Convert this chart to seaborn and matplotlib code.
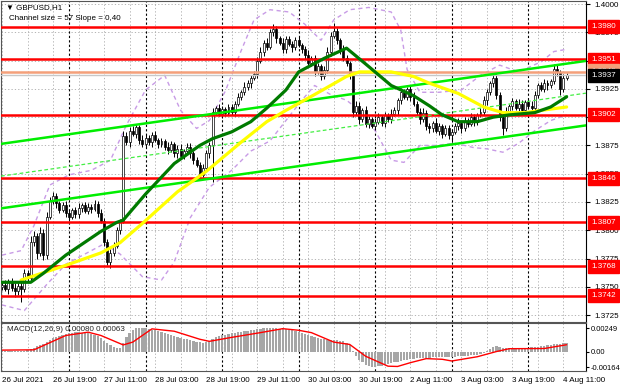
import numpy as np
import pandas as pd
import matplotlib
matplotlib.use("Agg")
import matplotlib.pyplot as plt
import seaborn as sns
from matplotlib.transforms import blended_transform_factory

sns.set_style("white")
plt.rcParams['font.family'] = ['Liberation Sans', 'DejaVu Sans']

# ---------------- data ----------------
title_text = "\u25bc GBPUSD,H1"
channel_text = "Channel size = 57 Slope = 0,40"
macd_text = "MACD(12,26,9) 0.00080 0.00063"

first_open = 1.3750
closes = [
    1.3752, 1.3748, 1.3755, 1.3749, 1.3746, 1.3751, 1.3748,
    1.3762, 1.3758, 1.3790,
    1.3795, 1.3780, 1.3798, 1.3778,
    1.3812, 1.3826, 1.3830,
    1.3824, 1.3818, 1.3822, 1.3815, 1.3812, 1.3818, 1.3814, 1.3820, 1.3822, 1.3817, 1.3821, 1.3819, 1.3823, 1.3815,
    1.3808, 1.3790, 1.3772, 1.3780,
    1.3786, 1.3800, 1.3808, 1.3883,
    1.3878, 1.3888, 1.3885, 1.3891, 1.3880, 1.3876,
    1.3882, 1.3878, 1.3884, 1.3880, 1.3876, 1.3879, 1.3874, 1.3871, 1.3876, 1.3868, 1.3872, 1.3866, 1.3870, 1.3874, 1.3868, 1.3862,
    1.3858, 1.3849, 1.3855, 1.3868, 1.3875,
    1.3905,
    1.3908, 1.3903, 1.3907, 1.3904, 1.3909, 1.3905,
    1.3912, 1.3918, 1.3922, 1.3927, 1.3930, 1.3935, 1.3938,
    1.3950, 1.3958, 1.3966, 1.3962, 1.3975, 1.3978, 1.3970,
    1.3966, 1.3960, 1.3969, 1.3965, 1.3962, 1.3968, 1.3964, 1.3960,
    1.3955, 1.3948, 1.3952, 1.3940, 1.3945, 1.3936, 1.3942,
    1.3958, 1.3972, 1.3976,
    1.3968, 1.3960, 1.3952, 1.3948, 1.3938,
    1.3905,
    1.3910, 1.3898, 1.3906, 1.3894, 1.3898, 1.3892,
    1.3896, 1.3900, 1.3895, 1.3902, 1.3898, 1.3903, 1.3906,
    1.3915, 1.3922, 1.3918, 1.3925,
    1.3918, 1.3912, 1.3905, 1.3898, 1.3904, 1.3892, 1.3890,
    1.3895, 1.3888, 1.3892, 1.3885, 1.3890, 1.3884, 1.3887,
    1.3892, 1.3895, 1.3890, 1.3897, 1.3894, 1.3900, 1.3896, 1.3902, 1.3905,
    1.3915, 1.3922, 1.3930, 1.3935,
    1.3920, 1.3900, 1.3890,
    1.3905, 1.3910, 1.3914, 1.3908, 1.3912, 1.3906, 1.3913, 1.3910, 1.3908,
    1.3920, 1.3928, 1.3925, 1.3930, 1.3928,
    1.3932, 1.3943, 1.3940, 1.3925, 1.3935, 1.3937,
]
up_wick_pips = [
    3, 4, 2, 3, 4, 2, 3, 4, 3, 5,
    4, 3, 5, 3, 4, 3, 4, 3, 2, 3,
    4, 3, 2, 3, 4, 2, 3, 3, 2, 4,
    3, 4, 3, 2, 3, 4, 3, 2, 5, 4,
    3, 4, 3, 2, 4, 3, 2, 3, 4, 2,
    3, 2, 4, 3, 2, 3, 4, 2, 3, 3,
    2, 3, 2, 4, 3, 3, 3, 2, 4, 3,
    2, 3, 3, 2, 3, 2, 4, 3, 2, 3,
    3, 4, 2, 4, 3, 4, 3, 2, 4, 3,
    3, 2, 3, 4, 2, 3, 4, 2, 3, 3,
    2, 3, 4, 3, 7, 3, 2, 4, 3, 2,
    2, 4, 3, 2, 4, 3, 2, 3, 4, 2,
    3, 2, 4, 3, 2, 4, 3, 2, 3, 4,
    2, 3, 4, 2, 3, 2, 4, 3, 2, 3,
    3, 2, 3, 4, 2, 3, 2, 4, 3, 2,
    3, 4, 3, 2, 5, 3, 2, 3, 4, 2,
    3, 2, 4, 3, 2, 3, 4, 3, 2, 3,
    4, 3, 2, 4, 3, 2, 3, 2,
]
down_wick_pips = [
    3, 2, 4, 3, 5, 3, 11, 3, 4, 3,
    4, 5, 3, 4, 3, 2, 3, 4, 3, 2,
    3, 4, 2, 3, 3, 4, 2, 3, 4, 2,
    3, 2, 4, 3, 5, 3, 2, 3, 2, 3,
    4, 2, 3, 4, 2, 3, 3, 4, 2, 3,
    2, 3, 4, 2, 3, 4, 2, 3, 2, 4,
    3, 2, 3, 2, 3, 4, 32, 3, 2, 4,
    3, 2, 3, 4, 2, 3, 2, 3, 4, 2,
    3, 2, 4, 3, 2, 3, 4, 2, 3, 3,
    2, 4, 3, 2, 3, 4, 2, 3, 4, 2,
    3, 2, 3, 4, 2, 3, 4, 2, 3, 4,
    5, 3, 4, 2, 3, 4, 2, 3, 2, 3,
    4, 2, 3, 2, 4, 3, 2, 3, 4, 2,
    3, 4, 2, 3, 4, 3, 2, 4, 3, 2,
    3, 6, 2, 3, 4, 2, 3, 2, 4, 3,
    2, 3, 4, 2, 3, 4, 3, 6, 2, 3,
    4, 2, 3, 4, 2, 3, 2, 4, 3, 2,
    3, 4, 2, 3, 4, 5, 3, 2,
]

# moving averages (bar index, price)
ma_green_bars = [0, 9, 13, 20, 31, 36, 38, 45, 54, 62, 66, 72, 78, 83, 89, 93, 101, 108, 114, 122, 129, 134, 138, 143, 149, 154, 159, 167, 172, 177]
ma_green_vals = [1.3754, 1.3754, 1.3762, 1.3778, 1.3799, 1.3807, 1.3809, 1.3832, 1.3859, 1.3875, 1.3881, 1.3887, 1.3896, 1.3908, 1.3924, 1.3940, 1.3952, 1.3961, 1.3947, 1.3928, 1.3919, 1.3910, 1.3902, 1.3896, 1.3896, 1.3900, 1.3902, 1.3904, 1.3909, 1.3918]
ma_yellow_bars = [6, 20, 31, 37, 44, 55, 64, 75, 83, 89, 98, 108, 112, 122, 129, 134, 143, 151, 157, 164, 169, 177]
ma_yellow_vals = [1.3756, 1.3769, 1.3780, 1.3789, 1.3806, 1.3834, 1.3852, 1.3878, 1.3896, 1.3906, 1.3920, 1.3936, 1.3940, 1.3940, 1.3936, 1.3930, 1.3921, 1.3909, 1.3904, 1.3904, 1.3906, 1.3909]

# envelope bands (bar index, price)
band_up_bars = [0, 6, 10, 15, 21, 28, 34, 39, 45, 51, 56, 61, 65, 70, 75, 79, 84, 90, 95, 100, 104, 109, 115, 122, 125, 127, 131, 137, 144, 150, 156, 162, 169, 173, 177]
band_up_vals = [1.3778, 1.3782, 1.3804, 1.3840, 1.3849, 1.3853, 1.3862, 1.3893, 1.3924, 1.3937, 1.3906, 1.3890, 1.3897, 1.3923, 1.3959, 1.3986, 1.3995, 1.3993, 1.3982, 1.3968, 1.3986, 1.3995, 1.3997, 1.3993, 1.3977, 1.3942, 1.3922, 1.3922, 1.3924, 1.3937, 1.3946, 1.3940, 1.3949, 1.3958, 1.3960]
band_lo_bars = [0, 7, 14, 20, 26, 32, 37, 44, 50, 54, 59, 65, 72, 78, 84, 89, 94, 98, 103, 108, 112, 117, 122, 126, 131, 136, 142, 148, 152, 157, 162, 167, 172, 177]
band_lo_vals = [1.3734, 1.3729, 1.3752, 1.3770, 1.3779, 1.3788, 1.3779, 1.3759, 1.3756, 1.3772, 1.3811, 1.3838, 1.3853, 1.3870, 1.3879, 1.3897, 1.3915, 1.3928, 1.3920, 1.3915, 1.3906, 1.3888, 1.3862, 1.3860, 1.3875, 1.3875, 1.3877, 1.3873, 1.3872, 1.3869, 1.3877, 1.3888, 1.3897, 1.3902]

# regression channel
channel_top_at_bar0 = 1.38765
channel_size_pips = 57
channel_slope_pips = 0.40

levels = [1.3980, 1.3951, 1.3902, 1.3846, 1.3807, 1.3768, 1.3742]
level_labels = ["1.3980", "1.3951", "1.3902", "1.3846", "1.3807", "1.3768", "1.3742"]
ask_price, ask_label = 1.3940, "1.3940"
bid_price, bid_label = 1.3937, "1.3937"
price_ticks = [1.3725, 1.3750, 1.3775, 1.3800, 1.3825, 1.3850, 1.3875, 1.3900, 1.3925, 1.3950, 1.3975, 1.4000]
price_tick_labels = ["1.3725", "1.3750", "1.3775", "1.3800", "1.3825", "1.3850", "1.3875", "", "1.3925", "", "1.3975", "1.4000"]

# MACD histogram (1e-5 units) and signal line
macd_hist = [
    2, 3, 4, 3, 2, 3, 5, 8, 15, 25,
    40, 55, 65, 80, 100, 120, 140, 155, 165, 175,
    185, 195, 200, 205, 205, 200, 200, 195, 190, 180,
    160, 140, 115, 90, 65, 45, 35, 40, 90, 150,
    200, 230, 245, 249, 248, 245, 240, 232, 225, 215,
    205, 195, 185, 175, 165, 155, 145, 135, 128, 120,
    112, 105, 98, 95, 100, 115, 135, 150, 162, 172,
    180, 186, 192, 198, 204, 210, 215, 220, 226, 232,
    237, 242, 245, 248, 249, 248, 246, 243, 240, 236,
    232, 228, 222, 212, 200, 188, 175, 163, 152, 142,
    134, 128, 124, 122, 122, 120, 115, 108, 95, 70,
    10, -45, -85, -115, -140, -155, -164, -162, -156, -148,
    -140, -132, -124, -116, -108, -100, -93, -87, -82, -77,
    -73, -70, -68, -66, -64, -62, -61, -60, -59, -58,
    -57, -56, -54, -52, -50, -47, -44, -41, -37, -33,
    -28, -15, 5, 30, 50, 55, 45, 38, 36, 36,
    38, 38, 40, 40, 41, 42, 44, 48, 53, 58,
    62, 66, 72, 80, 85, 83, 86, 88,
]
signal_bars = [0, 10, 20, 27, 31, 38, 41, 47, 54, 62, 65, 72, 81, 88, 93, 97, 104, 109, 114, 121, 124, 128, 133, 138, 141, 149, 155, 159, 170, 177]
signal_vals = [15, 18, 170, 205, 170, 70, 100, 240, 215, 130, 108, 150, 200, 242, 225, 200, 100, 75, -50, -155, -158, -118, -75, -82, -100, -55, 0, 30, 32, 72]
macd_ticks = [0.00249, 0.0, -0.00164]
macd_tick_labels = ["0.00249", "0.00", "-0.00164"]

time_tick_bars = [0, 16, 32, 48, 64, 80, 96, 112, 128, 144, 160, 176]
time_tick_labels = ["26 Jul 2021", "26 Jul 19:00", "27 Jul 11:00", "28 Jul 03:00", "28 Jul 19:00",
                    "29 Jul 11:00", "30 Jul 03:00", "30 Jul 19:00", "2 Aug 11:00", "3 Aug 03:00",
                    "3 Aug 19:00", "4 Aug 11:00"]
day_separator_bars = [21, 45, 69, 93, 117, 141, 165]

# ---------------- derived frame ----------------
n = len(closes)
bars = np.arange(n)
opens = [first_open] + closes[:-1]
df = pd.DataFrame({"bar": bars, "open": opens, "close": closes})
df["high"] = df[["open", "close"]].max(axis=1) + np.array(up_wick_pips) * 0.0001
df["low"] = df[["open", "close"]].min(axis=1) - np.array(down_wick_pips) * 0.0001

# ---------------- figure ----------------
W, H = 620, 388
fig = plt.figure(figsize=(W / 100, H / 100), dpi=100)
fig.patch.set_facecolor("white")

def fx(px):
    return px / W

def fy(py):
    return 1 - py / H

FS = 5.8
left_px, right_px = 1, 586
ax = fig.add_axes([fx(left_px), fy(322), fx(right_px - left_px), (322 - 1) / H])
axm = fig.add_axes([fx(left_px), fy(371), fx(right_px - left_px), (371 - 323) / H])

px_per_bar = 3.19
x0 = (left_px - 2) / px_per_bar
x1 = (right_px - 2) / px_per_bar
for a in (ax, axm):
    a.set_xlim(x0, x1)
    a.set_facecolor("white")
    for s in a.spines.values():
        s.set_color("#555555")
        s.set_linewidth(0.8)
    a.spines["right"].set_color("black")

ax.set_ylim(1.37189, 1.40027)
axm.set_ylim(-0.00206, 0.00302)

grid_kw = dict(color="#a8a8a8", lw=0.6, ls=(0, (1.5, 2.5)), zorder=0)
for p in price_ticks:
    ax.axhline(p, **grid_kw)
for b in range(0, int(x1) + 1, 8):
    ax.axvline(b, **grid_kw)
    axm.axvline(b, **grid_kw)
for b in day_separator_bars:
    ax.axvline(b, color="black", lw=0.8, ls=(0, (2, 2)), zorder=0.5)
    axm.axvline(b, color="black", lw=0.8, ls=(0, (2, 2)), zorder=0.5)

# envelope bands
sns.lineplot(x=band_up_bars, y=band_up_vals, ax=ax, color="#c89be6", lw=1.0, zorder=1)
sns.lineplot(x=band_lo_bars, y=band_lo_vals, ax=ax, color="#c89be6", lw=1.0, zorder=1)
for ln in ax.lines[-2:]:
    ln.set_dashes((3, 2.5))

# candles
ax.vlines(df["bar"], df["low"], df["high"], color="black", lw=0.7, zorder=2)
bull = df["close"] >= df["open"]
body_lo = df[["open", "close"]].min(axis=1)
body_h = (df["close"] - df["open"]).abs().clip(lower=0.00006)
ax.bar(df["bar"][bull], body_h[bull], bottom=body_lo[bull], width=0.62,
       color="white", edgecolor="black", lw=0.5, zorder=2.2)
ax.bar(df["bar"][~bull], body_h[~bull], bottom=body_lo[~bull], width=0.62,
       color="black", edgecolor="black", lw=0.5, zorder=2.2)

# support/resistance lines
for lv in levels:
    ax.axhline(lv, color="#ff0000", lw=1.8, zorder=3)
ax.axhline(ask_price, color="#f4a07a", lw=1.8, zorder=2.9)
ax.axhline(bid_price, color="#c8c8c8", lw=1.0, zorder=2.9)

# regression channel
xs = np.array([x0, x1])
top = channel_top_at_bar0 + channel_slope_pips * 0.0001 * xs
bot = top - channel_size_pips * 0.0001
mid = top - channel_size_pips * 0.0001 / 2
ax.plot(xs, top, color="#00ee00", lw=1.8, zorder=3.5)
ax.plot(xs, bot, color="#00ee00", lw=1.8, zorder=3.5)
ax.plot(xs, mid, color="#44ee44", lw=0.9, ls=(0, (3, 2)), zorder=3.5)

# moving averages
sns.lineplot(x=ma_yellow_bars, y=ma_yellow_vals, ax=ax, color="#ffff00", lw=2.3, zorder=4)
sns.lineplot(x=ma_green_bars, y=ma_green_vals, ax=ax, color="#007a00", lw=2.3, zorder=4.1)

# price axis
ax.yaxis.tick_right()
ax.set_yticks(price_ticks)
ax.set_yticklabels(price_tick_labels)
ax.tick_params(axis="y", labelsize=FS, length=3, pad=3, colors="black", direction="out")
ax.tick_params(axis="x", bottom=False, labelbottom=False)
ax.set_xlabel("")
ax.set_ylabel("")

tr = blended_transform_factory(ax.transAxes, ax.transData)
box_x = 1.0085
bb = dict(boxstyle="square,pad=0.38")
for lv, lab in zip(levels, level_labels):
    ax.text(box_x, lv, lab, transform=tr, color="white", fontsize=FS, va="center", ha="left",
            bbox=dict(bb, facecolor="#ff0000", edgecolor="#ff0000"),
            clip_on=False, zorder=10)
ax.text(box_x, ask_price + 0.00008, ask_label, transform=tr, color="white", fontsize=FS, va="center",
        ha="left", bbox=dict(bb, facecolor="#f4a07a", edgecolor="#f4a07a"),
        clip_on=False, zorder=10)
ax.text(box_x, bid_price - 0.00003, bid_label, transform=tr, color="white", fontsize=FS, va="center",
        ha="left", bbox=dict(bb, facecolor="black", edgecolor="black"),
        clip_on=False, zorder=11)

fig.text(fx(6), fy(8), title_text, fontsize=FS, va="center", ha="left", color="black")
fig.text(fx(9), fy(18), channel_text, fontsize=FS, va="center", ha="left", color="black")

# MACD panel
axm.bar(bars, np.array(macd_hist) * 1e-5, width=0.72, color="#a6a6a6", lw=0, zorder=1)
sns.lineplot(x=signal_bars, y=np.array(signal_vals) * 1e-5, ax=axm, color="#ff0000", lw=1.0, zorder=2)
axm.yaxis.tick_right()
axm.set_yticks(macd_ticks)
axm.set_yticklabels(macd_tick_labels)
axm.tick_params(axis="y", labelsize=5.4, length=2, pad=1.5, colors="black")
axm.set_xticks(time_tick_bars)
axm.set_xticklabels(time_tick_labels, ha="left")
axm.tick_params(axis="x", labelsize=FS, length=3, pad=1.5, colors="black")
axm.set_xlabel("")
axm.set_ylabel("")
axm.text(0.01, 0.86, macd_text, transform=axm.transAxes, fontsize=FS, va="center", ha="left")

fig.savefig("out.png", dpi=100, facecolor="white")
